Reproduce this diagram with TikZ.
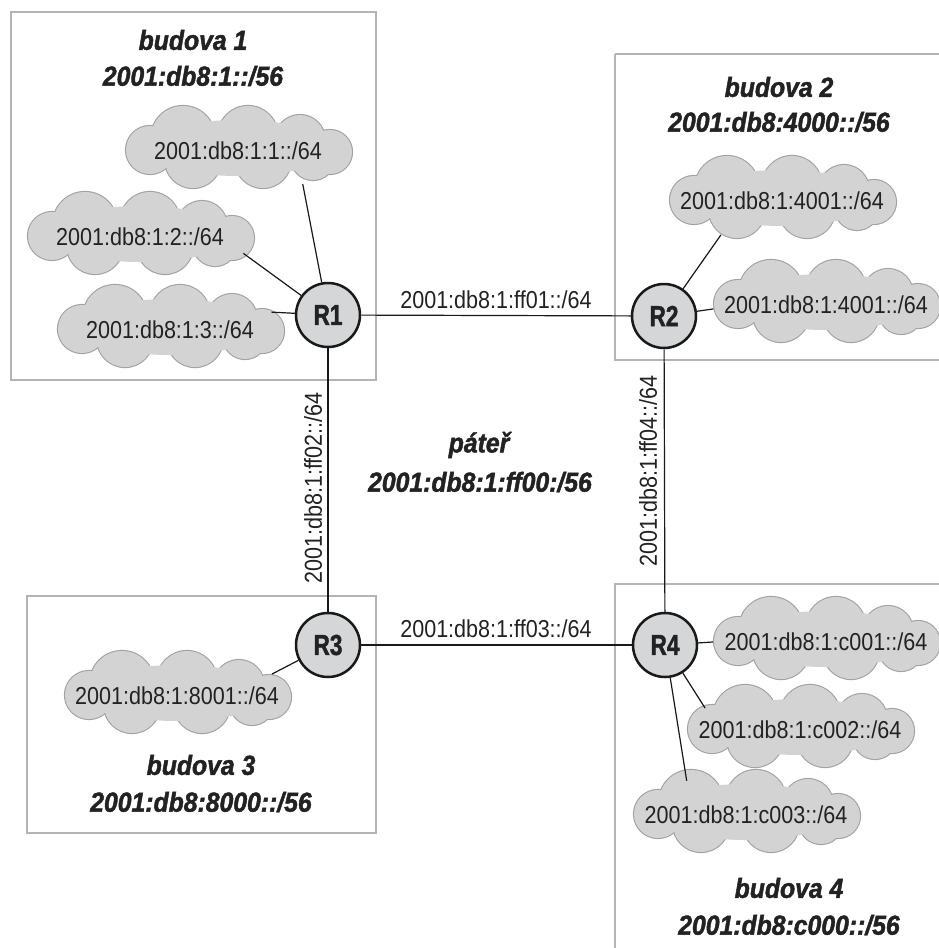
\documentclass[tikz,border=0pt]{standalone}
\usepackage{fontspec}
\usetikzlibrary{shapes.geometric}
\newfontfamily\netfont{Liberation Sans}[FakeStretch=0.88]
\newfontfamily\ttlfont{Liberation Sans}[FakeStretch=0.9,FakeBold=1.6]
\newfontfamily\rtfont{Liberation Sans}[FakeStretch=0.78,FakeBold=1.4]
\definecolor{cloudfill}{HTML}{D3D3D4}
\definecolor{cloudline}{HTML}{A2A2A2}
\definecolor{routerfill}{HTML}{D5D6D8}
\definecolor{boxline}{HTML}{B4B4B4}
\definecolor{inktext}{HTML}{222222}
% cloud drawn as a union of puffs, with a named ellipse node carrying the label
\newcommand\netcloudat[3]{%
  \begin{scope}[shift={(#2)}]
    \foreach \dx/\dy/\r in {-55/-10/32, 10/-12/30, 62/-8/25, -88/2/24, 92/4/22, -45/12/28, 25/12/28, 75/10/22}
      \draw[cloudline, line width=2.2pt] (\dx,\dy) circle[radius=\r];
    \foreach \dx/\dy/\r in {-55/-10/32, 10/-12/30, 62/-8/25, -88/2/24, 92/4/22, -45/12/28, 25/12/28, 75/10/22}
      \fill[cloudfill] (\dx,\dy) circle[radius=\r];
    \fill[cloudfill] (0,0) ellipse[x radius=95, y radius=28];
  \end{scope}
  \node[cloudlbl] (#1) at (#2) {\makebox[0pt]{#3}};%
}
\begin{document}
\begin{tikzpicture}[x=1pt,y=-1pt,
  cloudlbl/.style={ellipse, minimum width=226pt, minimum height=80pt, inner sep=0pt,
    font=\netfont\fontsize{24.5}{28}\selectfont, text=inktext, yshift=-3pt},
  router/.style={circle, minimum size=64pt, inner sep=0pt, fill=routerfill,
    draw=black!90, line width=2.5pt, font=\rtfont\bfseries\fontsize{29}{30}\selectfont, text=inktext},
  bldbox/.style={draw=boxline, line width=1.4pt},
  link/.style={draw=black!90, line width=1.2pt},
  linklabel/.style={font=\netfont\fontsize{24.5}{28}\selectfont, text=inktext, inner sep=0pt},
  ttl/.style={font=\ttlfont\bfseries\itshape\fontsize{27.5}{36}\selectfont, text=inktext, align=center, inner sep=0pt}
]
\useasboundingbox (0,0) rectangle (938,948);
\fill[white] (0,0) rectangle (938,948);

% building boxes
\draw[bldbox] (11,12) rectangle (376,380);
\draw[bldbox] (615,54) -- (945,54) (615,54) -- (615,360) -- (945,360);
\draw[bldbox] (27,596) rectangle (376,833);
\draw[bldbox] (945,584) -- (615,584) -- (615,955);

% titles
\node[ttl] (t1a) at (193,40) {budova 1};
\node[ttl] (t1b) at (193,76) {2001:db8:1::/56};
\node[ttl] (t2a) at (779,87) {budova 2};
\node[ttl] (t2b) at (779,122) {2001:db8:4000::/56};
\node[ttl] (t3a) at (201,765) {budova 3};
\node[ttl] (t3b) at (201,802) {2001:db8:8000::/56};
\node[ttl] (t4a) at (789,888) {budova 4};
\node[ttl] (t4b) at (789,925) {2001:db8:c000::/56};
\node[ttl] (tpa) at (479,445) {páteř};
\node[ttl] (tpb) at (480,482) {2001:db8:1:ff00:/56};

% clouds
\netcloudat{c11}{238,148}{2001:db8:1:1::/64}
\netcloudat{c12}{140,234}{2001:db8:1:2::/64}
\netcloudat{c13}{170,327}{2001:db8:1:3::/64}
\netcloudat{c21}{782,198}{2001:db8:1:4001::/64}
\netcloudat{c22}{826,302}{2001:db8:1:4001::/64}
\netcloudat{c31}{177,693}{2001:db8:1:8001::/64}
\netcloudat{c41}{826,639}{2001:db8:1:c001::/64}
\netcloudat{c42}{800,727}{2001:db8:1:c002::/64}
\netcloudat{c43}{746,812}{2001:db8:1:c003::/64}

% routers
\node[router] (R1) at (328,315) {R1};
\node[router] (R2) at (664,316) {R2};
\node[router] (R3) at (328,645) {R3};
\node[router] (R4) at (665,645) {R4};

% backbone links
\draw[link] (R1) -- (R2);
\draw[link] (R1) -- (R3);
\draw[link] (R3) -- (R4);
\draw[link] (R2) -- (R4);

\node[linklabel] (l12) at (496,300) {2001:db8:1:ff01::/64};
\node[linklabel] (l34) at (496,629) {2001:db8:1:ff03::/64};
\node[linklabel, rotate=90] (l13) at (313,488) {2001:db8:1:ff02::/64};
\node[linklabel, rotate=90] (l24) at (648,471) {2001:db8:1:ff04::/64};

% cloud links
\draw[link] (R1) -- (c11.-27);
\draw[link] (R1) -- (c12.-9);
\draw[link] (R1) -- (c13.10);
\draw[link] (R2) -- (c21.-151);
\draw[link] (R2) -- (c22.182);
\draw[link] (R3) -- (c31.13);
\draw[link] (R4) -- (c41.180);
\draw[link] (R4) -- (c42.167);
\draw[link] (R4) -- (c43.150);
\end{tikzpicture}
\end{document}
